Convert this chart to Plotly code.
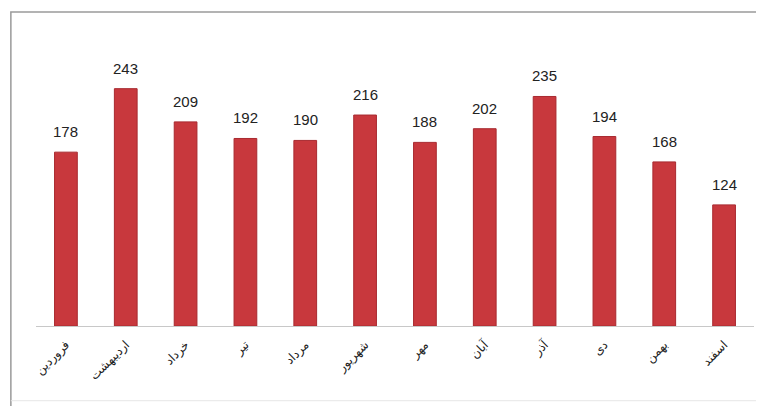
import plotly.graph_objects as go

months = ["فروردین", "اردیبهشت", "خرداد", "تیر", "مرداد", "شهریور",
          "مهر", "آبان", "آذر", "دی", "بهمن", "اسفند"]
values = [178, 243, 209, 192, 190, 216, 188, 202, 235, 194, 168, 124]

fig = go.Figure()
fig.add_trace(go.Bar(
    x=months, y=values,
    marker=dict(color="#c8383d", line=dict(color="#a82a30", width=1)),
    width=0.38,
    cliponaxis=False,
))

for m, v in zip(months, values):
    fig.add_annotation(
        x=m, y=v, text=str(v), showarrow=False,
        yanchor="bottom", yshift=10,
        font=dict(family="Liberation Sans Narrow, Liberation Sans, Arial", size=15, color="#222222"),
    )

fig.update_layout(
    width=764, height=406,
    margin=dict(l=28, r=18, t=25, b=88, autoexpand=False),
    paper_bgcolor="white", plot_bgcolor="white",
    showlegend=False,
    xaxis=dict(
        tickangle=-45, automargin=False,
        tickfont=dict(family="DejaVu Sans", size=12, color="#222222"),
        showline=True, linecolor="#c8c8c8", linewidth=1,
        ticks="outside", ticklen=6, tickcolor="rgba(0,0,0,0)", showgrid=False,
    ),
    yaxis=dict(range=[0, 300], visible=False, showgrid=False, automargin=False),
    shapes=[
        dict(type="path", xref="paper", yref="paper",
             path="M -0.035,-0.3 L -0.035,1.0717 L 1.05,1.0717",
             line=dict(color="#9a9a9a", width=1.5), layer="below"),
        dict(type="line", xref="paper", yref="paper",
             x0=-0.035, x1=1.05, y0=-0.255, y1=-0.255,
             line=dict(color="#e6e6e6", width=1), layer="below"),
    ],
)

fig.write_html("out.html")
